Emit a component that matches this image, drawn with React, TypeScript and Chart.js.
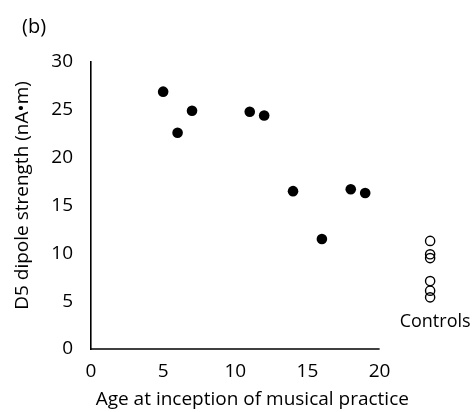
import React, { useEffect, useRef } from 'react';
import { Chart, registerables } from 'chart.js';

Chart.register(...registerables);

const FONT = '"Open Sans", Lato, sans-serif';
const FONT_SIZE = 19;

// Musicians: age at inception of musical practice vs D5 dipole strength
const musicianAges = [5, 6, 7, 11, 12, 14, 16, 18, 19];
const musicianStrength = [26.9, 22.6, 24.9, 24.8, 24.4, 16.5, 11.5, 16.7, 16.3];

// Controls (no musical practice), drawn in a column to the right of the axis
const controlAge = 23.5;
const controlStrength = [11.3, 9.9, 9.5, 7.1, 6.1, 5.4];

const xTicks = [0, 5, 10, 15, 20];
const yTicks = [0, 5, 10, 15, 20, 25, 30];
const xAxisSpan = [0, 20]; // drawn axis line
const xPlotRange = [0, 24.6]; // plot extent (room for control column)
const yRange = [0, 30];

const xTitle = 'Age at inception of musical practice';
const yTitle = 'D5 dipole strength (nA\u2022m)';
const panelLabel = '(b)';
const controlsLabel = 'Controls';

const annotate = {
  id: 'annotate',
  beforeDatasetsDraw(chart: any) {
    const ctx = chart.ctx;
    const xs = chart.scales.x;
    const ys = chart.scales.y;
    // X axis line only spanning 0..20
    ctx.save();
    ctx.strokeStyle = '#000';
    ctx.lineWidth = 1.6;
    const y0 = ys.getPixelForValue(yRange[0]);
    ctx.beginPath();
    ctx.moveTo(xs.getPixelForValue(xAxisSpan[0]) - 0.8, y0);
    ctx.lineTo(xs.getPixelForValue(xAxisSpan[1]), y0);
    ctx.stroke();
    ctx.restore();
  },
  afterDraw(chart: any) {
    const ctx = chart.ctx;
    const xs = chart.scales.x;
    const ys = chart.scales.y;
    ctx.save();
    ctx.fillStyle = '#000';
    ctx.textBaseline = 'middle';
    ctx.textAlign = 'center';
    // Controls label under the control column
    ctx.font = `18px ${FONT}`;
    const cx = xs.getPixelForValue(controlAge);
    const cy = ys.getPixelForValue(Math.min(...controlStrength)) + 25;
    ctx.fillText(controlsLabel, cx + 5, cy);
    ctx.font = `${FONT_SIZE}px ${FONT}`;
    // X axis title
    ctx.fillText(xTitle, xs.getPixelForValue(10) + 17, 400);
    // Y axis title (rotated)
    ctx.save();
    ctx.translate(23, ys.getPixelForValue(15) - 10);
    ctx.rotate(-Math.PI / 2);
    ctx.fillText(yTitle, 0, 0);
    ctx.restore();
    // Panel label
    ctx.font = `20px ${FONT}`;
    ctx.textAlign = 'left';
    ctx.fillText(panelLabel, 22, 27);
    ctx.restore();
  },
};

export default function App() {
  const ref = useRef<HTMLCanvasElement>(null);

  useEffect(() => {
    if (!ref.current) return;
    const chart = new Chart(ref.current, {
      type: 'scatter',
      data: {
        datasets: [
          {
            label: 'Musicians',
            data: musicianAges.map((a, i) => ({ x: a, y: musicianStrength[i] })),
            pointRadius: 5.3,
            pointHoverRadius: 5.3,
            backgroundColor: '#000',
            borderColor: '#000',
            borderWidth: 0,
          },
          {
            label: 'Controls',
            data: controlStrength.map((v) => ({ x: controlAge, y: v })),
            pointRadius: 4.6,
            pointHoverRadius: 4.6,
            backgroundColor: 'rgba(0,0,0,0)',
            borderColor: '#000',
            borderWidth: 1.4,
            clip: false as any,
          },
        ],
      },
      options: {
        responsive: false,
        animation: false,
        layout: { padding: { left: 0, top: 62, right: 27, bottom: 0 } },
        plugins: {
          legend: { display: false },
          tooltip: { enabled: false },
        },
        scales: {
          x: {
            type: 'linear',
            min: xPlotRange[0],
            max: xPlotRange[1],
            grid: { display: false, drawTicks: false },
            border: { display: false },
            afterBuildTicks: (s: any) => {
              s.ticks = xTicks.map((v) => ({ value: v }));
            },
            afterFit: (s: any) => {
              s.height = 63;
            },
            ticks: {
              color: '#000',
              padding: 11,
              font: { family: FONT, size: FONT_SIZE },
              maxRotation: 0,
            },
            title: { display: false },
          },
          y: {
            type: 'linear',
            min: yRange[0],
            max: yRange[1],
            grid: { display: false, drawTicks: false },
            border: { display: true, color: '#000', width: 1.6 },
            afterBuildTicks: (s: any) => {
              s.ticks = yTicks.map((v) => ({ value: v }));
            },
            afterFit: (s: any) => {
              s.width = 91;
            },
            ticks: {
              color: '#000',
              padding: 18,
              font: { family: FONT, size: FONT_SIZE },
            },
            title: { display: false },
          },
        },
      },
      plugins: [annotate],
    });
    return () => chart.destroy();
  }, []);

  return (
    <div style={{ position: 'absolute', left: 0, top: 0, width: 473, height: 412, background: '#fff' }}>
      <canvas ref={ref} width={473} height={412} />
    </div>
  );
}
